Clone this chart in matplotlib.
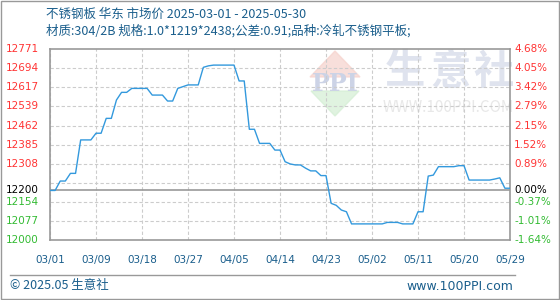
import matplotlib
matplotlib.use("Agg")
import matplotlib.pyplot as plt
from matplotlib.patches import Polygon, Rectangle

plt.rcParams['font.family'] = ['Noto Sans CJK SC', 'DejaVu Sans']

# price series, one value per day (03/01 .. 05/30)
prices = [12200, 12200, 12238, 12238, 12269, 12269, 12404, 12404, 12404, 12431,
          12431, 12491, 12491, 12565, 12596, 12596, 12612, 12612, 12612, 12612,
          12585, 12585, 12585, 12561, 12561, 12612, 12619, 12626, 12626, 12626,
          12697, 12703, 12706, 12706, 12706, 12706, 12706, 12642, 12642, 12447,
          12447, 12390, 12390, 12390, 12363, 12363, 12316, 12307, 12303, 12303,
          12290, 12279, 12279, 12260, 12260, 12148, 12140, 12121, 12114, 12065,
          12065, 12065, 12065, 12065, 12065, 12065, 12071, 12071, 12071, 12065,
          12065, 12065, 12114, 12114, 12258, 12262, 12296, 12296, 12296, 12296,
          12300, 12300, 12242, 12242, 12242, 12242, 12242, 12246, 12251, 12209,
          12209]
base = 12200
x_labels = ["03/01", "03/09", "03/18", "03/27", "04/05", "04/14",
            "04/23", "05/02", "05/11", "05/20", "05/29"]
grid_vals = [12077, 12154, 12231, 12308, 12385, 12462, 12539, 12617, 12694]
left_labels = ["12771", "12694", "12617", "12539", "12462", "12385", "12308",
               "12200", "12154", "12077", "12000"]
left_vals = [12771, 12694, 12617, 12539, 12462, 12385, 12308, 12200, 12154, 12077, 12000]
right_labels = ["4.68%", "4.05%", "3.42%", "2.79%", "2.15%", "1.52%", "0.89%",
                "0.00%", "-0.37%", "-1.01%", "-1.64%"]

ymin, ymax = 12000, 12771
red, green, blue = "#ff3333", "#33bb33", "#1a5e8c"

fig = plt.figure(figsize=(5.6, 3.0), dpi=100)
fig.patches.append(Rectangle((0.001, 0.002), 0.997, 0.995, transform=fig.transFigure,
                             fill=False, edgecolor="#999999", lw=1))

ax = fig.add_axes([50 / 560, 60 / 300, 460 / 560, 191 / 300])
ax.set_xlim(0, len(prices) - 1)
ax.set_ylim(ymin, ymax)

# watermark
ax_w = fig.add_axes([0, 0, 1, 1], zorder=-1)
ax_w.set_xlim(0, 560)
ax_w.set_ylim(300, 0)
ax_w.axis("off")
ax_w.add_patch(Polygon([[310, 77], [335, 51], [360, 77]], color="#f6d2cc", alpha=0.7))
ax_w.add_patch(Polygon([[311, 91], [335, 116], [359, 91]], color="#d4eed4", alpha=0.7))
ax_w.text(335, 84, "PPI", ha="center", va="center", fontsize=17, color="#ccd3e6",
          family="DejaVu Serif", fontweight="bold")
for cx, ch in zip([405, 450, 493], "生意社"):
    ax_w.text(cx, 72, ch, ha="center", va="center", fontsize=29, color="#dfe3ee",
              fontweight="bold")
ax_w.text(448, 107, "WWW.100PPI.COM", ha="center", va="center", fontsize=11,
          color="#e8e8e8")

for i in range(0, len(prices), 9):
    ax.axvline(i, color="#cccccc", ls=(0, (3, 2)), lw=0.8, zorder=1)
for v in grid_vals:
    ax.axhline(v, color="#cccccc", ls=(0, (3, 2)), lw=0.8, zorder=1)
ax.axhline(base, color="#999999", lw=1.2, zorder=2)

ax.plot(range(len(prices)), prices, color="#3399dd", lw=1.0, zorder=3)

for s in ax.spines.values():
    s.set_color("#999999")
    s.set_linewidth(1.2)
ax.set_xticks(range(0, len(prices), 9))
ax.set_xticklabels(x_labels, fontsize=7.5, color=blue, family="DejaVu Sans")
ax.tick_params(axis="x", length=0, pad=11)
ax.set_yticks([])
ax.patch.set_alpha(0)

for lab, v, r in zip(left_labels, left_vals, right_labels):
    c = red if v > base else (green if v < base else "black")
    ax.text(-0.097, v, lab, transform=ax.get_yaxis_transform(),
            ha="left", va="center", fontsize=7.5, color=c, family="DejaVu Sans")
    ax.text(1.009, v, r, transform=ax.get_yaxis_transform(), ha="left", va="center",
            fontsize=7.5, color=c, family="DejaVu Sans")

fig.text(46 / 560, 1 - 14 / 300, "不锈钢板 华东 市场价 2025-03-01 - 2025-05-30",
         fontsize=9, color=blue, va="center")
fig.text(46 / 560, 1 - 31 / 300, "材质:304/2B 规格:1.0*1219*2438;公差:0.91;品种:冷轧不锈钢平板;",
         fontsize=9, color=blue, va="center")

fig.add_artist(plt.Line2D([10 / 560, 515 / 560], [1 - 275 / 300] * 2,
                          transform=fig.transFigure, color="#999999", lw=1))
fig.text(10 / 560, 1 - 286 / 300, "© 2025.05 生意社", fontsize=9, color=blue, va="center")
fig.text(513 / 560, 1 - 286 / 300, "www.100PPI.com", fontsize=9, color=blue,
         va="center", ha="right", family="DejaVu Sans")

fig.savefig("out.png", dpi=100)
